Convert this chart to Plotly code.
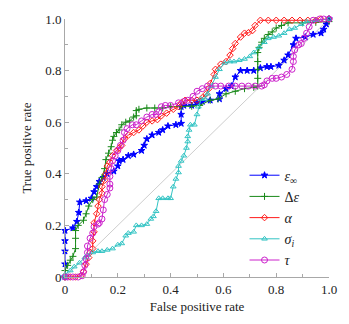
import plotly.graph_objects as go

# ---- data ----
eps_x = [0, 0, 0, 0, 0, 0.03, 0.045, 0.052, 0.056, 0.08, 0.1, 0.11, 0.12, 0.13, 0.145, 0.16, 0.185, 0.2, 0.205,
         0.22, 0.24, 0.26, 0.29, 0.30, 0.31, 0.33, 0.355, 0.37, 0.39, 0.42, 0.44, 0.44, 0.44, 0.45, 0.48, 0.5,
         0.52, 0.55, 0.585, 0.585, 0.61, 0.63, 0.645, 0.665, 0.69, 0.715, 0.74, 0.765, 0.78, 0.81, 0.83, 0.845,
         0.865, 0.875, 0.91, 0.94, 0.97, 0.98, 0.99, 1.0]
eps_y = [0, 0.05, 0.1, 0.14, 0.18, 0.19, 0.215, 0.25, 0.29, 0.295, 0.305, 0.33, 0.35, 0.37, 0.385, 0.40, 0.41,
         0.43, 0.45, 0.455, 0.47, 0.475, 0.49, 0.51, 0.535, 0.55, 0.56, 0.57, 0.585, 0.59, 0.595, 0.63, 0.66,
         0.665, 0.665, 0.675, 0.68, 0.685, 0.69, 0.71, 0.73, 0.74, 0.775, 0.80, 0.80, 0.80, 0.81, 0.815, 0.815,
         0.82, 0.84, 0.86, 0.90, 0.925, 0.93, 0.94, 0.945, 0.96, 0.98, 1.0]

deps_x = [0, 0, 0.01, 0.02, 0.03, 0.04, 0.04, 0.04, 0.05, 0.07, 0.08, 0.09, 0.105, 0.12, 0.13, 0.14, 0.15,
          0.155, 0.165, 0.175, 0.18, 0.185, 0.195, 0.205, 0.215, 0.23, 0.245, 0.26, 0.27, 0.27, 0.28, 0.31,
          0.34, 0.37, 0.40, 0.44, 0.48, 0.51, 0.55, 0.58, 0.61, 0.645, 0.68, 0.715, 0.73, 0.73, 0.73, 0.73,
          0.73, 0.735, 0.745, 0.755, 0.77, 0.785, 0.80, 0.82, 0.845, 0.90, 0.95, 1.0]
deps_y = [0, 0.025, 0.045, 0.065, 0.08, 0.11, 0.15, 0.18, 0.20, 0.22, 0.245, 0.275, 0.30, 0.31, 0.36, 0.385,
          0.42, 0.455, 0.48, 0.505, 0.53, 0.545, 0.56, 0.57, 0.59, 0.60, 0.605, 0.62, 0.625, 0.645, 0.65, 0.655,
          0.655, 0.655, 0.66, 0.66, 0.662, 0.665, 0.685, 0.69, 0.71, 0.72, 0.73, 0.735, 0.74, 0.77, 0.805,
          0.835, 0.87, 0.89, 0.91, 0.925, 0.94, 0.95, 0.965, 0.975, 0.985, 0.985, 0.987, 0.99]

alpha_x = [0, 0.02, 0.04, 0.06, 0.07, 0.08, 0.09, 0.095, 0.105, 0.105, 0.11, 0.11, 0.12, 0.125, 0.13, 0.14,
           0.14, 0.15, 0.155, 0.16, 0.17, 0.18, 0.195, 0.205, 0.215, 0.225, 0.24, 0.26, 0.28, 0.295, 0.31,
           0.33, 0.35, 0.365, 0.385, 0.41, 0.43, 0.44, 0.455, 0.48, 0.50, 0.52, 0.535, 0.545, 0.55, 0.565,
           0.57, 0.59, 0.61, 0.625, 0.635, 0.645, 0.665, 0.68, 0.695, 0.71, 0.72, 0.74, 0.77, 0.80, 0.83,
           0.86, 0.89, 0.92, 0.95, 0.97, 1.0]
alpha_y = [0, 0, 0, 0.005, 0.02, 0.05, 0.075, 0.095, 0.11, 0.14, 0.175, 0.21, 0.245, 0.275, 0.30, 0.325,
           0.35, 0.375, 0.40, 0.43, 0.445, 0.47, 0.49, 0.50, 0.51, 0.535, 0.55, 0.56, 0.57, 0.585, 0.60,
           0.605, 0.61, 0.625, 0.635, 0.65, 0.66, 0.675, 0.685, 0.685, 0.685, 0.695, 0.71, 0.73, 0.75, 0.785,
           0.805, 0.825, 0.835, 0.86, 0.885, 0.905, 0.93, 0.945, 0.947, 0.955, 0.975, 0.995, 0.995, 0.995,
           0.995, 0.995, 0.995, 0.995, 0.995, 1.0, 1.0]

sigma_x = [0, 0, 0.02, 0.035, 0.055, 0.075, 0.085, 0.105, 0.125, 0.14, 0.16, 0.18, 0.2, 0.215, 0.23, 0.24,
           0.26, 0.27, 0.29, 0.31, 0.325, 0.335, 0.345, 0.355, 0.37, 0.39, 0.40, 0.41, 0.42, 0.43, 0.43, 0.44,
           0.45, 0.46, 0.465, 0.465, 0.47, 0.475, 0.49, 0.50, 0.505, 0.515, 0.53, 0.54, 0.555, 0.57, 0.585,
           0.605, 0.625, 0.64, 0.66, 0.68, 0.70, 0.715, 0.735, 0.755, 0.77, 0.79, 0.81, 0.83, 0.85, 0.87,
           0.895, 0.915, 0.95, 1.0]
sigma_y = [0, 0.01, 0.025, 0.04, 0.055, 0.075, 0.085, 0.095, 0.10, 0.10, 0.105, 0.11, 0.125, 0.13, 0.16,
           0.17, 0.175, 0.20, 0.20, 0.205, 0.225, 0.235, 0.255, 0.305, 0.305, 0.305, 0.305, 0.35, 0.38, 0.405,
           0.43, 0.45, 0.47, 0.50, 0.525, 0.545, 0.57, 0.59, 0.59, 0.63, 0.66, 0.69, 0.69, 0.71, 0.74, 0.775,
           0.805, 0.83, 0.835, 0.835, 0.84, 0.845, 0.855, 0.87, 0.89, 0.91, 0.925, 0.93, 0.935, 0.945, 0.96,
           0.965, 0.98, 0.99, 0.995, 1.0]

tau_x = [0, 0.01, 0.03, 0.05, 0.065, 0.07, 0.075, 0.08, 0.085, 0.085, 0.095, 0.105, 0.11, 0.125, 0.13, 0.14,
         0.145, 0.15, 0.16, 0.17, 0.17, 0.17, 0.175, 0.18, 0.19, 0.2, 0.21, 0.22, 0.225, 0.235, 0.255, 0.27,
         0.29, 0.31, 0.33, 0.345, 0.355, 0.365, 0.38, 0.40, 0.43, 0.45, 0.465, 0.485, 0.5, 0.52, 0.54, 0.57,
         0.59, 0.62, 0.645, 0.67, 0.695, 0.72, 0.745, 0.755, 0.765, 0.785, 0.80, 0.82, 0.84, 0.86, 0.865,
         0.865, 0.87, 0.885, 0.895, 0.905, 0.915, 0.925, 0.94, 0.965, 0.98, 1.0]
tau_y = [0, 0, 0, 0, 0.005, 0.02, 0.045, 0.07, 0.095, 0.12, 0.15, 0.17, 0.195, 0.205, 0.21, 0.225, 0.26,
         0.30, 0.32, 0.345, 0.36, 0.39, 0.42, 0.45, 0.47, 0.49, 0.51, 0.53, 0.56, 0.575, 0.59, 0.59, 0.605,
         0.62, 0.63, 0.63, 0.64, 0.66, 0.665, 0.665, 0.675, 0.68, 0.685, 0.70, 0.72, 0.73, 0.74, 0.74, 0.74,
         0.74, 0.74, 0.74, 0.74, 0.74, 0.74, 0.745, 0.76, 0.77, 0.77, 0.775, 0.785, 0.805, 0.835, 0.855,
         0.88, 0.90, 0.905, 0.925, 0.945, 0.97, 0.995, 1.0, 1.0, 1.0]

diag_x = [0, 1]
diag_y = [0, 1]

tick_vals = [0, 0.2, 0.4, 0.6, 0.8, 1.0]
tick_text = ["0", "0.2", "0.4", "0.6", "0.8", "1.0"]

series = [
    ("<i>ε</i><sub>∞</sub>", eps_x, eps_y, "#0000ff", "star", 5),
    ("Δ<i>ε</i>", deps_x, deps_y, "#1a8a1a", "cross-thin-open", 5),
    ("<i>α</i>", alpha_x, alpha_y, "#ff1a1a", "diamond-open", 5),
    ("<i>σ</i><sub><i>i</i></sub>", sigma_x, sigma_y, "#33c4c4", "triangle-up-open", 5),
    ("<i>τ</i>", tau_x, tau_y, "#cc22cc", "circle-open", 6),
]

FONT = "Liberation Serif, Times New Roman, serif"

fig = go.Figure()
fig.add_trace(go.Scatter(x=diag_x, y=diag_y, mode="lines",
                         line=dict(color="#c0c0c0", width=0.8), showlegend=False, hoverinfo="skip"))
for name, xs, ys, col, sym, sz in series:
    fig.add_trace(go.Scatter(
        x=xs, y=ys, name=name, mode="lines+markers", cliponaxis=False,
        line=dict(color=col, width=1),
        marker=dict(symbol=sym, size=sz, color=col, line=dict(color=col, width=1)),
    ))

axis_common = dict(
    range=[0, 1], tickvals=tick_vals, ticktext=tick_text,
    showgrid=False, zeroline=False, showline=True, linecolor="#a8a8a8", linewidth=1,
    ticks="inside", ticklen=4, tickcolor="#a8a8a8",
    minor=dict(ticks="inside", ticklen=3, tickcolor="#a8a8a8", dtick=0.1),
    tickfont=dict(family=FONT, size=13, color="#222"),
)
fig.update_xaxes(**axis_common, title=dict(text="False positive rate", standoff=6,
                 font=dict(family=FONT, size=13, color="#222")))
fig.update_yaxes(**axis_common, title=dict(text="True positive rate", standoff=10,
                 font=dict(family=FONT, size=13, color="#222")))

fig.update_layout(
    width=349, height=324,
    margin=dict(l=65, r=16, t=13, b=44),
    paper_bgcolor="white", plot_bgcolor="white",
    legend=dict(x=0.68, y=0.455, xanchor="left", yanchor="top",
                font=dict(family=FONT, size=14, color="#222"),
                bgcolor="rgba(0,0,0,0)", itemwidth=30, tracegroupgap=0),
)

fig.write_html("out.html")
